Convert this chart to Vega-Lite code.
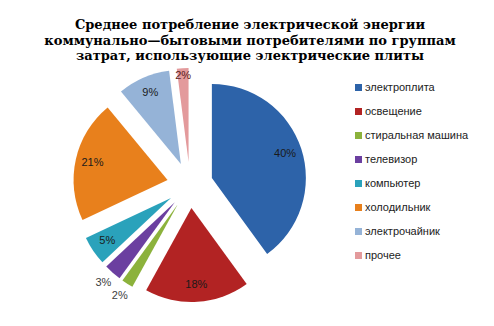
{
  "$schema": "https://vega.github.io/schema/vega-lite/v6.json",
  "autosize": "none",
  "width": 494,
  "height": 264,
  "padding": {"top": 62, "left": 0, "right": 0, "bottom": 0},
  "background": "white",
  "title": {
    "text": ["Среднее потребление  электрической энергии", "коммунально—бытовыми потребителями по группам", "затрат, использующие электрические  плиты"],
    "font": "DejaVu Serif",
    "fontSize": 13,
    "fontWeight": "bold",
    "color": "#000000",
    "anchor": "middle",
    "lineHeight": 15.5,
    "offset": -1,
    "dx": 3
  },
  "data": {
    "values": [
      {"order": 1, "category": "электроплита", "value": 40},
      {"order": 2, "category": "освещение", "value": 18},
      {"order": 3, "category": "стиральная машина", "value": 2},
      {"order": 4, "category": "телевизор", "value": 3},
      {"order": 5, "category": "компьютер", "value": 5},
      {"order": 6, "category": "холодильник", "value": 21},
      {"order": 7, "category": "электрочайник", "value": 9},
      {"order": 8, "category": "прочее", "value": 2}
    ]
  },
  "transform": [
    {"window": [{"op": "sum", "field": "value", "as": "end"}], "sort": [{"field": "order"}], "frame": [null, 0]},
    {"calculate": "datum.end - datum.value", "as": "start"},
    {"calculate": "datum.end - datum.value / 2", "as": "mid"},
    {"calculate": "23 * sin(datum.mid / 100 * 2 * PI)", "as": "ex"},
    {"calculate": "23 * cos(datum.mid / 100 * 2 * PI)", "as": "ey"},
    {"calculate": "datum.value + '%'", "as": "label"}
  ],
  "layer": [
    {
      "mark": {"type": "arc", "outerRadius": 94},
      "encoding": {
        "theta": {"field": "start", "type": "quantitative", "stack": null, "scale": {"domain": [0, 100], "range": [0, 6.283185307179586]}},
        "theta2": {"field": "end"},
        "x": {"field": "ex", "type": "quantitative", "axis": null, "scale": {"domain": [-190, 304], "nice": false, "zero": false}},
        "y": {"field": "ey", "type": "quantitative", "axis": null, "scale": {"domain": [-141, 123], "nice": false, "zero": false}},
        "color": {
          "field": "category",
          "type": "nominal",
          "scale": {
            "domain": ["электроплита", "освещение", "стиральная машина", "телевизор", "компьютер", "холодильник", "электрочайник", "прочее"],
            "range": ["#2D63A9", "#B22323", "#8CB23C", "#6B3FA0", "#2AA2BB", "#E8801C", "#95B3D7", "#E39A9C"]
          },
          "legend": {
            "title": null,
            "orient": "none",
            "legendX": 353,
            "legendY": 20,
            "symbolType": "square",
            "symbolSize": 49,
            "symbolStrokeWidth": 0,
            "labelFont": "Liberation Sans",
            "labelFontSize": 11,
            "labelColor": "#222222",
            "labelOffset": 1,
            "rowPadding": 12,
            "padding": 0
          }
        }
      }
    },
    {
      "transform": [{"filter": "datum.value >= 5"}],
      "mark": {"type": "text", "radius": 100, "font": "Liberation Sans", "fontSize": 11, "color": "#1a1a1a"},
      "encoding": {
        "theta": {"field": "mid", "type": "quantitative"},
        "x": {"datum": 0},
        "y": {"datum": 0},
        "text": {"field": "label"}
      }
    },
    {
      "transform": [{"filter": "datum.category == 'прочее'"}],
      "mark": {"type": "text", "radius": 109, "font": "Liberation Sans", "fontSize": 11, "color": "#5a1a1a"},
      "encoding": {
        "theta": {"field": "mid", "type": "quantitative"},
        "x": {"datum": 0},
        "y": {"datum": 0},
        "text": {"field": "label"}
      }
    },
    {
      "transform": [{"filter": "datum.category == 'телевизор' || datum.category == 'стиральная машина'"}],
      "mark": {"type": "text", "radius": 131, "font": "Liberation Sans", "fontSize": 11, "color": "#404040"},
      "encoding": {
        "theta": {"field": "mid", "type": "quantitative"},
        "x": {"datum": 0},
        "y": {"datum": 0},
        "text": {"field": "label"}
      }
    }
  ],
  "config": {"view": {"stroke": null}}
}
